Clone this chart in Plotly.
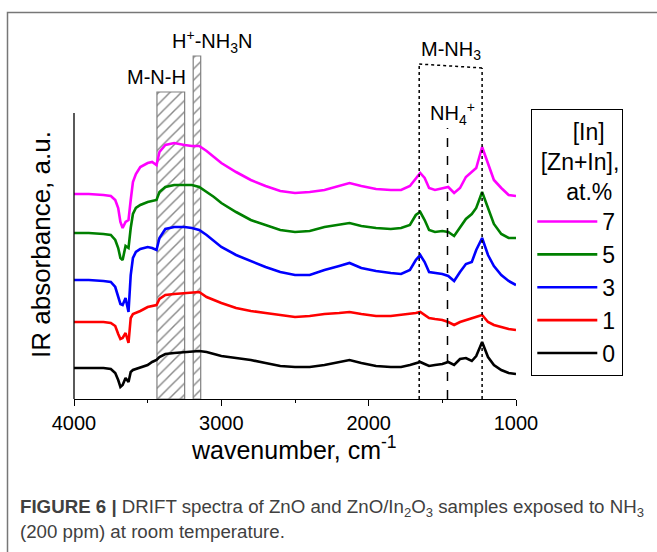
import plotly.graph_objects as go

# ---------------- data ----------------
wavenumber = [4000, 3900, 3800, 3750, 3720, 3700, 3685, 3670, 3650, 3630,
              3615, 3600, 3580, 3550, 3500, 3470, 3440, 3420, 3380, 3320,
              3250, 3200, 3150, 3100, 3050, 3000, 2900, 2800, 2700, 2600,
              2500, 2400, 2300, 2200, 2130, 2050, 1950, 1850, 1780, 1720,
              1680, 1650, 1620, 1590, 1550, 1500, 1460, 1420, 1380, 1340,
              1300, 1270, 1230, 1190, 1150, 1100, 1050, 1000]

abs_7 = [2.05, 2.05, 2.04, 2.03, 1.99, 1.91, 1.77, 1.71, 1.77, 1.79,
         1.99, 2.17, 2.25, 2.32, 2.36, 2.37, 2.34, 2.47, 2.54, 2.56,
         2.54, 2.53, 2.53, 2.48, 2.42, 2.36, 2.27, 2.19, 2.13, 2.08,
         2.06, 2.07, 2.09, 2.13, 2.16, 2.13, 2.10, 2.09, 2.09, 2.13,
         2.21, 2.26, 2.21, 2.11, 2.09, 2.11, 2.12, 2.06, 2.11, 2.22,
         2.27, 2.31, 2.52, 2.36, 2.19, 2.11, 2.04, 2.03]

abs_5 = [1.66, 1.66, 1.65, 1.64, 1.59, 1.51, 1.41, 1.39, 1.53, 1.51,
         1.71, 1.85, 1.91, 1.94, 1.97, 1.98, 1.99, 2.07, 2.12, 2.14,
         2.14, 2.14, 2.12, 2.07, 2.02, 1.96, 1.87, 1.79, 1.74, 1.69,
         1.67, 1.68, 1.72, 1.74, 1.76, 1.73, 1.71, 1.70, 1.71, 1.74,
         1.84, 1.87, 1.79, 1.69, 1.67, 1.68, 1.67, 1.63, 1.71, 1.80,
         1.85, 1.91, 2.07, 1.92, 1.75, 1.65, 1.61, 1.61]

abs_3 = [1.19, 1.19, 1.18, 1.17, 1.12, 1.03, 0.95, 0.94, 1.01, 0.87,
         1.24, 1.41, 1.47, 1.50, 1.52, 1.51, 1.49, 1.61, 1.70, 1.72,
         1.72, 1.71, 1.69, 1.64, 1.58, 1.52, 1.44, 1.38, 1.32, 1.27,
         1.24, 1.24, 1.29, 1.33, 1.36, 1.31, 1.28, 1.26, 1.25, 1.29,
         1.39, 1.44, 1.37, 1.27, 1.26, 1.25, 1.23, 1.18, 1.27, 1.35,
         1.37, 1.49, 1.61, 1.44, 1.33, 1.24, 1.18, 1.14]

abs_1 = [0.77, 0.77, 0.77, 0.76, 0.73, 0.65, 0.60, 0.61, 0.66, 0.56,
         0.81, 0.85, 0.86, 0.88, 0.92, 0.93, 0.94, 1.00, 1.04, 1.05,
         1.06, 1.07, 1.07, 1.02, 0.99, 0.96, 0.91, 0.88, 0.86, 0.84,
         0.82, 0.83, 0.85, 0.86, 0.87, 0.85, 0.83, 0.83, 0.84, 0.85,
         0.86, 0.87, 0.84, 0.81, 0.80, 0.79, 0.77, 0.74, 0.77, 0.79,
         0.81, 0.82, 0.84, 0.77, 0.74, 0.72, 0.70, 0.69]

abs_0 = [0.31, 0.31, 0.31, 0.30, 0.26, 0.19, 0.12, 0.14, 0.21, 0.17,
         0.27, 0.29, 0.30, 0.32, 0.34, 0.37, 0.39, 0.42, 0.45, 0.46,
         0.47, 0.48, 0.48, 0.47, 0.45, 0.43, 0.41, 0.39, 0.36, 0.33,
         0.32, 0.32, 0.34, 0.37, 0.39, 0.36, 0.33, 0.32, 0.32, 0.34,
         0.36, 0.37, 0.35, 0.33, 0.34, 0.35, 0.37, 0.34, 0.40, 0.41,
         0.38, 0.43, 0.57, 0.42, 0.34, 0.29, 0.26, 0.25]

series_labels = ["0", "1", "3", "5", "7"]
series_values = [abs_0, abs_1, abs_3, abs_5, abs_7]
series_colors = ["#000000", "#ff0000", "#0000ff", "#008000", "#ff00ff"]

# hatched bands (wavenumber from, to, top in a.u.)
band_mnh = [3437, 3249, 3.07]
band_hnh3n = [3191, 3140, 3.43]
# marker lines (wavenumber)
mnh3_lines = [1657, 1230]
mnh3_tops = [3.35, 3.31]
nh4_line = 1465
nh4_top = 2.71

x_ticks = [4000, 3000, 2000, 1000]

# ---------------- figure ----------------
W, H = 657, 552
L, R, T, B = 74, 141, 30, 153
PW, PH = W - L - R, H - T - B


def px(xp):
    return (xp - L) / PW


def py(yp):
    return (H - B - yp) / PH


FONT = "Liberation Sans, Arial, sans-serif"

fig = go.Figure()

for b in (band_mnh, band_hnh3n):
    fig.add_trace(go.Scatter(
        x=[b[0], b[1], b[1], b[0], b[0]],
        y=[0, 0, b[2], b[2], 0],
        mode="lines", fill="toself",
        line=dict(color="#808080", width=1.2),
        fillcolor="white",
        fillpattern=dict(shape="/", size=8, solidity=0.18,
                         fgcolor="#111111", bgcolor="white"),
        showlegend=False, hoverinfo="skip", cliponaxis=False,
    ))

for lab, vals, col in zip(series_labels, series_values, series_colors):
    fig.add_trace(go.Scatter(
        x=wavenumber, y=vals, mode="lines", name=lab,
        line=dict(color=col, width=2.6),
    ))

shapes = []
shapes.append(dict(type="line", xref="paper", yref="y", x0=0, x1=0,
                   y0=0, y1=2.86, line=dict(color="black", width=1.3)))
for xv, top in zip(mnh3_lines, mnh3_tops):
    shapes.append(dict(type="line", xref="x", yref="y", x0=xv, x1=xv,
                       y0=0, y1=top, line=dict(color="black", width=1.5, dash="dot")))
shapes.append(dict(type="line", xref="x", yref="y", x0=mnh3_lines[0], x1=mnh3_lines[1],
                   y0=mnh3_tops[0], y1=mnh3_tops[1],
                   line=dict(color="black", width=1.5, dash="dot")))
shapes.append(dict(type="line", xref="x", yref="y", x0=nh4_line, x1=nh4_line,
                   y0=0, y1=nh4_top, line=dict(color="black", width=1.5, dash="dash")))
shapes.append(dict(type="rect", xref="paper", yref="paper",
                   x0=px(7.5), x1=px(670), y0=py(565), y1=py(12.5),
                   line=dict(color="#777777", width=1.5), layer="below"))


def ann(text, x, y, size, **kw):
    d = dict(text=text, x=px(x), y=py(y), xref="paper", yref="paper",
             xanchor="center", yanchor="middle", showarrow=False,
             font=dict(size=size, family=FONT, color="black"))
    d.update(kw)
    return d


CAP_FONT = dict(size=18.7, family="Liberation Sans, Arial, sans-serif", color="#404040")

annotations = [
    ann("M-N-H", 156, 77, 20),
    ann("H<sup>+</sup>-NH<sub>3</sub>N", 212, 41, 20),
    ann("M-NH<sub>3</sub>", 451, 51, 20),
    ann("NH<sub>4</sub><sup>+</sup>", 452, 113, 20),
    ann("IR absorbance, a.u.", 41, 245, 26, textangle=-90),
    ann("wavenumber, cm<sup>-1</sup>", 294, 448, 25),
    dict(text="<b>FIGURE 6 |</b> DRIFT spectra of ZnO and ZnO/In<sub>2</sub>O<sub>3</sub> samples exposed to NH<sub>3</sub>",
         x=px(18), y=py(508), xref="paper", yref="paper", xanchor="left", yanchor="middle",
         showarrow=False, font=CAP_FONT),
    dict(text="(200 ppm) at room temperature.",
         x=px(18), y=py(531), xref="paper", yref="paper", xanchor="left", yanchor="middle",
         showarrow=False, font=CAP_FONT),
]

NB = "\u00a0"
legend_title = (NB * 6 + "[In]<br>" + NB + "[Zn+In],<br>" + NB * 5 + "at.%")

fig.update_layout(
    width=W, height=H,
    margin=dict(l=L, r=R, t=T, b=B, pad=0),
    paper_bgcolor="white", plot_bgcolor="white",
    showlegend=True,
    legend=dict(
        x=px(531), y=py(109), xanchor="left", yanchor="top",
        traceorder="reversed", itemwidth=60,
        title=dict(text=legend_title, side="top",
                   font=dict(size=23, family=FONT, color="black")),
        font=dict(size=23, family=FONT, color="black"),
        bordercolor="black", borderwidth=1.3, bgcolor="white",
    ),
    xaxis=dict(
        range=[4000, 1000], tickvals=x_ticks, ticks="outside", ticklen=6,
        tickwidth=1.2, tickcolor="black", showline=True, linecolor="black",
        linewidth=1.3, showgrid=False, zeroline=False,
        tickfont=dict(size=20, family=FONT, color="black"),
        minor=dict(dtick=500, ticks="outside", ticklen=3, tickcolor="black",
                   tickwidth=1.2, showgrid=False),
    ),
    yaxis=dict(
        range=[0, (H - B - T) / 100], showline=False, showticklabels=False,
        ticks="", showgrid=False, zeroline=False,
    ),
    shapes=shapes,
    annotations=annotations,
)

fig.write_html("out.html")
